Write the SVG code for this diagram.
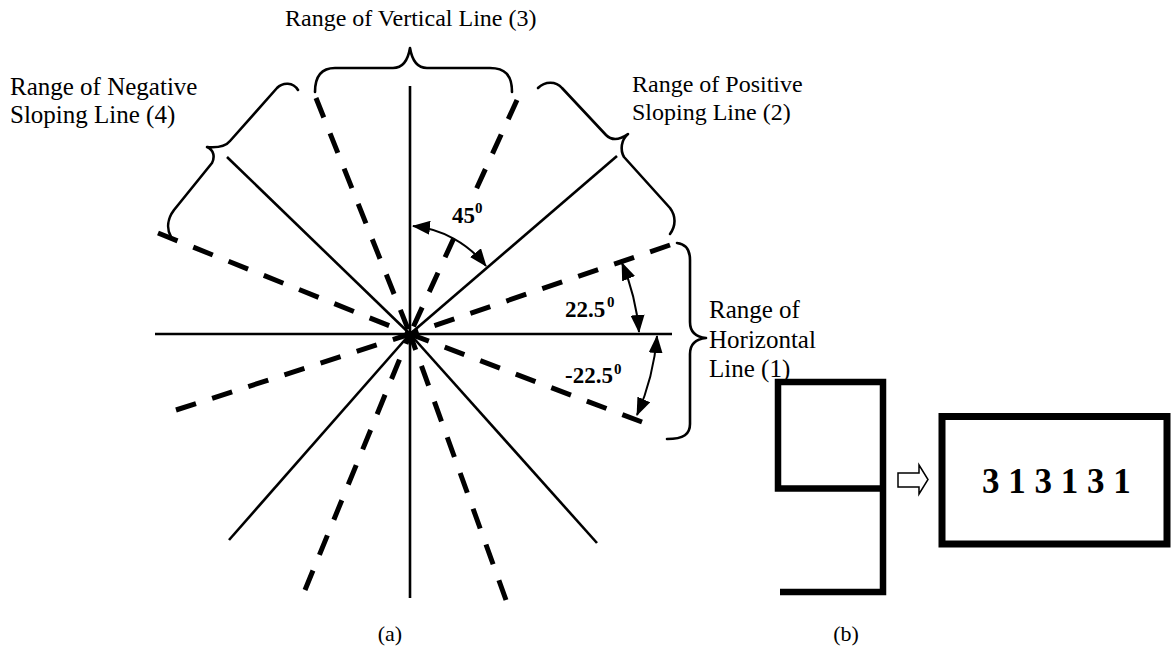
<svg xmlns="http://www.w3.org/2000/svg" width="1171" height="650" viewBox="0 0 1171 650">
<defs>
<marker id="ah" viewBox="0 0 18 14" refX="17" refY="7" markerWidth="18" markerHeight="14" markerUnits="userSpaceOnUse" orient="auto-start-reverse">
<path d="M0,0 L18,7 L0,14 z" fill="#000"/>
</marker>
<style>
.solid{stroke:#000;stroke-width:2.6;fill:none}
.dash{stroke:#000;stroke-width:5;fill:none;stroke-dasharray:21 17}
.brace{stroke:#000;stroke-width:2.6;fill:none;stroke-linecap:round;stroke-linejoin:round}
.arc{stroke:#000;stroke-width:2;fill:none;marker-start:url(#ah);marker-end:url(#ah)}
.lbl{font-family:"Liberation Serif","Times New Roman",serif;font-size:25px;fill:#000}
.lbl24{font-family:"Liberation Serif","Times New Roman",serif;font-size:24px;fill:#000}
.ang{font-family:"Liberation Serif","Times New Roman",serif;font-size:23px;font-weight:bold;fill:#000}
.sup{font-family:"Liberation Serif","Times New Roman",serif;font-size:15px;font-weight:bold;fill:#000}
.cap{font-family:"Liberation Serif","Times New Roman",serif;font-size:22px;fill:#000}
.thick{stroke:#000;stroke-width:6.5;fill:none;stroke-linejoin:miter}
</style>
</defs>
<rect width="1171" height="650" fill="#fff"/>
<g id="connectors">
<line class="solid" x1="155" y1="334" x2="672" y2="334"/>
<line class="solid" x1="410" y1="86" x2="410" y2="598"/>
<line class="solid" x1="617" y1="156" x2="410" y2="334"/>
<line class="solid" x1="227" y1="157" x2="410" y2="334"/>
<line class="solid" x1="229" y1="540" x2="410" y2="334"/>
<line class="solid" x1="597" y1="543" x2="410" y2="334"/>
<path class="dash" d="M670,245 L410,334"/>
<path class="dash" d="M642,422 L410,334"/>
<path class="dash" d="M517,100 L410,334"/>
<path class="dash" d="M316,98 L410,334"/>
<path class="dash" d="M158,233 L410,334"/>
<path class="dash" d="M176,410 L410,334"/>
<path class="dash" d="M305,590 L410,334"/>
<path class="dash" d="M506,600 L410,334"/>
<path class="arc" d="M413,226 A106,106 0 0 1 486,266"/>
<path class="arc" d="M622,263 A226,226 0 0 1 639,332"/>
<path class="arc" d="M657,336 A245,245 0 0 1 637,415"/>
</g>
<g id="braces">
<path id="brace-vertical" class="brace" d="M315,92 C315,75 322,68 335,68 L393,68 C403,68 408,60 410,48 C412,60 417,68 427,68 L490,68 C505,68 512,75 512,92"/>
<path id="brace-negative" class="brace" d="M298,90 C293,82 283,82 277,88 L230,141 C226,146 218,148 207,147 C214,150 215,157 212,163 L174,210 C168,218 166,228 171,237"/>
<path id="brace-positive" class="brace" d="M538,88 C545,81 556,81 562,88 L606,135 C611,140 618,141 628,134 C621,140 620,150 624,157 L670,208 C676,216 676,226 670,234"/>
<path id="brace-horizontal" class="brace" d="M677,243 C686,244 690,250 690,260 L690,322 C690,332 696,337 706,338 C696,339 690,344 690,354 L690,424 C690,434 684,439 667,439"/>
</g>
<g id="labels">
<text class="lbl24" x="285" y="26">Range of Vertical Line (3)</text>
<text class="lbl" x="10" y="95">Range of Negative</text>
<text class="lbl" x="10" y="123">Sloping Line (4)</text>
<text class="lbl24" x="632" y="92">Range of Positive</text>
<text class="lbl24" x="632" y="120">Sloping Line (2)</text>
<text class="lbl" x="709" y="318">Range of</text>
<text class="lbl" x="709" y="348">Horizontal</text>
<text class="lbl" x="709" y="377">Line (1)</text>
<rect x="451" y="201" width="35" height="23" fill="#fff"/>
<text class="ang" x="452" y="223">45</text>
<text class="sup" x="475" y="213">0</text>
<text class="ang" x="565" y="317">22.5</text>
<text class="sup" x="607" y="307">0</text>
<text class="ang" x="565" y="383">-22.5</text>
<text class="sup" x="614" y="374">0</text>
<text class="cap" x="390" y="641" text-anchor="middle">(a)</text>
<text class="cap" x="846" y="641" text-anchor="middle">(b)</text>
</g>
<g id="stroke-shape">
<path class="thick" d="M780,592 L883,592 L883,382 L778,382 L778,488.5 L883,488.5"/>
</g>
<g id="hollow-arrow">
<polygon points="898,473 919,473 919,465 928,479.5 919,494 919,487 898,487" fill="#fff" stroke="#000" stroke-width="1.5"/>
</g>
<g id="code-box">
<rect x="942" y="416.5" width="225" height="127.5" fill="none" stroke="#000" stroke-width="7"/>
<text x="982" y="493" font-family="'Liberation Serif','Times New Roman',serif" font-size="35" font-weight="bold" fill="#000">3 1 3 1 3 1</text>
</g>
</svg>
